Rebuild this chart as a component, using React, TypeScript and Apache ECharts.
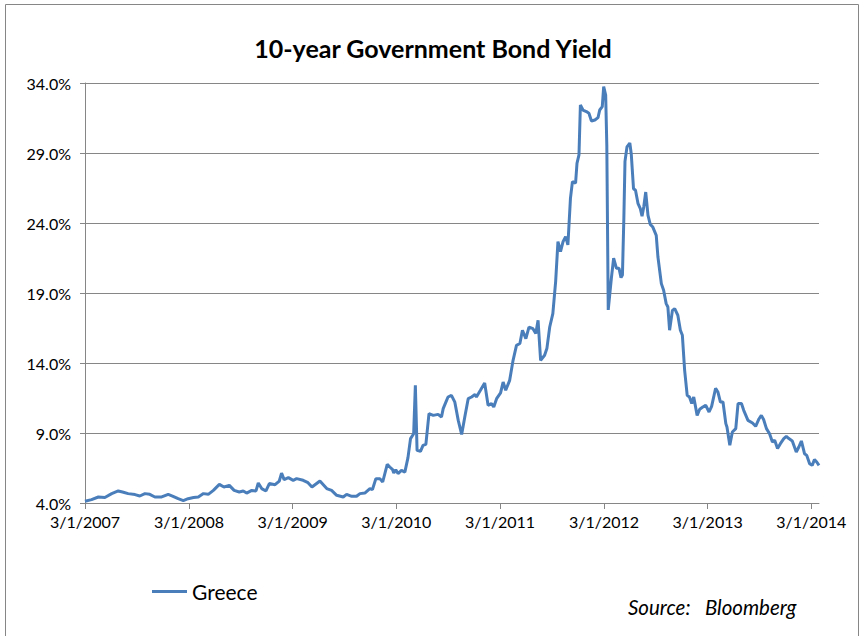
import React, { useEffect, useRef } from "react";
import * as echarts from "echarts";

const dates: string[] = [
  "2007-03-01","2007-03-24","2007-04-17","2007-05-10","2007-06-03","2007-06-26","2007-07-11","2007-07-31","2007-08-24","2007-09-10",
  "2007-09-28","2007-10-15","2007-11-02","2007-11-26","2007-12-19","2008-01-05","2008-01-23","2008-02-10","2008-02-27","2008-03-17",
  "2008-04-03","2008-04-21","2008-05-08","2008-05-26","2008-06-16","2008-07-02","2008-07-21","2008-08-07","2008-08-25","2008-09-08",
  "2008-09-20","2008-10-08","2008-10-23","2008-10-31","2008-11-12","2008-11-27","2008-12-09","2008-12-29","2009-01-13","2009-01-21",
  "2009-01-30","2009-02-14","2009-03-03","2009-03-15","2009-04-07","2009-04-24","2009-05-08","2009-06-05","2009-06-29","2009-07-16",
  "2009-08-03","2009-08-26","2009-09-07","2009-09-25","2009-10-12","2009-10-24","2009-11-10","2009-11-28","2009-12-07","2009-12-19",
  "2010-01-02","2010-01-12","2010-01-28","2010-02-06","2010-02-16","2010-02-20","2010-02-27","2010-03-07","2010-03-19","2010-03-31",
  "2010-04-11","2010-04-20","2010-05-01","2010-05-07","2010-05-13","2010-05-25","2010-06-03","2010-06-13","2010-06-24","2010-07-09",
  "2010-07-26","2010-08-07","2010-08-13","2010-08-25","2010-08-30","2010-09-11","2010-09-23","2010-10-05","2010-10-17","2010-10-28",
  "2010-11-09","2010-11-21","2010-12-03","2010-12-08","2010-12-22","2011-01-06","2011-01-18","2011-01-30","2011-02-07","2011-02-17",
  "2011-03-03","2011-03-12","2011-03-21","2011-04-04","2011-04-16","2011-04-28","2011-05-10","2011-05-19","2011-05-31","2011-06-11",
  "2011-06-25","2011-07-05","2011-07-13","2011-07-22","2011-08-05","2011-08-13","2011-08-23","2011-09-03","2011-09-13","2011-09-21",
  "2011-09-30","2011-10-09","2011-10-18","2011-10-26","2011-11-04","2011-11-11","2011-11-22","2011-11-27","2011-12-04","2011-12-09",
  "2011-12-18","2011-12-30","2012-01-08","2012-01-17","2012-01-29","2012-02-09","2012-02-15","2012-02-24","2012-02-29","2012-03-07",
  "2012-03-11","2012-03-16","2012-03-27","2012-04-04","2012-04-14","2012-04-23","2012-04-30","2012-05-05","2012-05-10","2012-05-14",
  "2012-05-21","2012-05-31","2012-06-05","2012-06-13","2012-06-20","2012-06-29","2012-07-07","2012-07-13","2012-07-19","2012-07-26",
  "2012-08-03","2012-08-11","2012-08-20","2012-09-01","2012-09-07","2012-09-19","2012-09-27","2012-10-06","2012-10-12","2012-10-18",
  "2012-10-28","2012-11-05","2012-11-16","2012-11-25","2012-12-02","2012-12-10","2012-12-19","2012-12-27","2013-01-04","2013-01-11",
  "2013-01-23","2013-02-01","2013-02-12","2013-02-22","2013-03-06","2013-03-15","2013-03-29","2013-04-06","2013-04-15","2013-04-24",
  "2013-05-04","2013-05-08","2013-05-18","2013-05-27","2013-06-08","2013-06-16","2013-06-28","2013-07-06","2013-07-21","2013-08-06",
  "2013-08-17","2013-08-29","2013-09-06","2013-09-14","2013-09-24","2013-10-05","2013-10-15","2013-10-23","2013-11-02","2013-11-12",
  "2013-11-24","2013-12-03","2013-12-12","2013-12-24","2014-01-07","2014-01-16","2014-01-25","2014-02-05","2014-02-13","2014-02-23",
  "2014-03-04","2014-03-12","2014-03-20","2014-03-28"
];

const greeceYield: number[] = [
  4.12,4.24,4.43,4.39,4.67,4.86,4.79,4.67,4.60,4.50,
  4.67,4.62,4.43,4.43,4.62,4.48,4.31,4.17,4.31,4.39,
  4.43,4.67,4.62,4.90,5.33,5.14,5.26,4.90,4.79,4.86,
  4.71,4.90,4.86,5.43,5.03,4.86,5.39,5.31,5.57,6.14,
  5.67,5.81,5.62,5.74,5.62,5.45,5.14,5.57,5.03,4.90,
  4.55,4.43,4.62,4.48,4.48,4.67,4.71,5.03,4.96,5.74,
  5.74,5.50,6.76,6.57,6.38,6.14,6.38,6.10,6.33,6.21,
  7.24,8.60,8.95,12.40,7.76,7.69,8.12,8.19,10.38,10.26,
  10.33,10.14,10.74,11.33,11.57,11.69,11.20,9.90,8.90,10.14,
  11.45,11.57,11.76,11.57,12.05,12.57,10.98,11.10,10.86,11.45,
  11.86,12.64,12.05,12.76,14.19,15.26,15.39,16.34,15.74,16.57,
  16.45,16.10,17.05,14.19,14.55,15.03,16.57,17.53,19.85,22.67,
  21.96,22.67,23.03,22.43,25.76,26.96,26.84,28.26,28.86,32.43,
  32.07,31.96,31.84,31.29,31.36,31.53,32.07,32.31,33.74,33.14,
  29.57,17.79,20.05,21.48,20.76,20.76,20.10,20.29,24.34,28.40,
  29.43,29.71,28.95,26.45,26.34,25.38,25.02,24.48,25.14,26.21,
  24.55,23.90,23.71,23.12,21.57,19.67,19.19,18.24,18.00,16.34,
  17.76,17.88,17.41,16.34,15.98,13.48,11.69,11.57,11.10,11.57,
  10.26,10.70,10.86,10.98,10.50,10.90,12.20,11.93,11.21,11.21,
  9.67,9.43,8.12,9.07,9.31,11.10,11.10,10.62,9.90,9.71,
  9.48,10.02,10.26,9.96,9.31,8.95,8.36,8.48,7.89,8.24,
  8.60,8.76,8.60,8.43,7.64,8.00,8.43,7.52,7.40,6.81,
  6.69,7.10,6.93,6.69
];

const xTickDates: string[] = ["2007-03-01","2008-03-01","2009-03-01","2010-03-01","2011-03-01","2012-03-01","2013-03-01","2014-03-01"];
const xTickLabels: string[] = ["3/1/2007","3/1/2008","3/1/2009","3/1/2010","3/1/2011","3/1/2012","3/1/2013","3/1/2014"];
const yMin = 4;
const yMax = 34;
const yStep = 5;

const FONT = "Lato";
const DAY = 86400000;

export default function App() {
  const ref = useRef<HTMLDivElement>(null);
  useEffect(() => {
    if (!ref.current) return;
    const chart = echarts.init(ref.current, undefined, { renderer: "svg" });
    const tickTimes = xTickDates.map((d) => new Date(d).getTime());
    const xMin = tickTimes[0];
    const xMax = new Date(dates[dates.length - 1]).getTime();
    const data = dates.map((d, i) => [new Date(d).getTime(), greeceYield[i]]);
    const fmtX = (v: number) => {
      for (let i = 0; i < tickTimes.length; i++) {
        if (Math.abs(tickTimes[i] - v) < 2 * DAY) return xTickLabels[i];
      }
      return "";
    };
    chart.setOption({
      animation: false,
      backgroundColor: "#ffffff",
      title: {
        text: "10-year Government Bond Yield",
        left: 428,
        textAlign: "center",
        top: 30,
        textStyle: { fontFamily: FONT, fontSize: 25, fontWeight: "bold", color: "#000" },
      },
      legend: {
        left: 147,
        top: 576,
        icon: "rect",
        itemWidth: 35,
        itemHeight: 3,
        data: ["Greece"],
        textStyle: { fontFamily: FONT, fontSize: 21, color: "#000" },
      },
      grid: { left: 85, right: 45, top: 83, bottom: 133, containLabel: false },
      xAxis: {
        type: "value",
        min: xMin,
        max: xMax,
        interval: 365.25 * DAY,
        axisLine: { show: true, lineStyle: { color: "#868686", width: 1 } },
        axisTick: { show: true, length: 6, lineStyle: { color: "#868686" }, customValues: tickTimes },
        axisLabel: {
          margin: 10,
          fontFamily: FONT,
          fontSize: 16,
          color: "#000",
          customValues: tickTimes,
          formatter: fmtX,
        },
        splitLine: { show: false },
      },
      yAxis: {
        type: "value",
        min: yMin,
        max: yMax,
        interval: yStep,
        axisLine: { show: true, lineStyle: { color: "#868686", width: 1 } },
        axisTick: { show: true, length: 5, lineStyle: { color: "#868686" } },
        axisLabel: {
          margin: 14,
          fontFamily: FONT,
          fontSize: 16,
          color: "#000",
          formatter: (v: number) => v.toFixed(1) + "%",
        },
        splitLine: { show: true, lineStyle: { color: "#868686", width: 1 } },
      },
      series: [
        {
          name: "Greece",
          type: "line",
          data,
          showSymbol: false,
          symbol: "none",
          lineStyle: { color: "#4a7ebb", width: 3 },
          itemStyle: { color: "#4a7ebb" },
        },
      ],
      graphic: [
        {
          type: "rect",
          silent: true,
          shape: { x: 5.5, y: 4.5, width: 853, height: 700 },
          style: { fill: "none", stroke: "#868686", lineWidth: 1 },
        },
        {
          type: "text",
          left: 628,
          top: 597,
          style: { text: "Source:   Bloomberg", font: "italic 20.5px Lato", fill: "#000" },
        },
      ],
    });
    return () => chart.dispose();
  }, []);
  return <div ref={ref} style={{ position: "absolute", left: 0, top: 0, width: 864, height: 636 }} />;
}
